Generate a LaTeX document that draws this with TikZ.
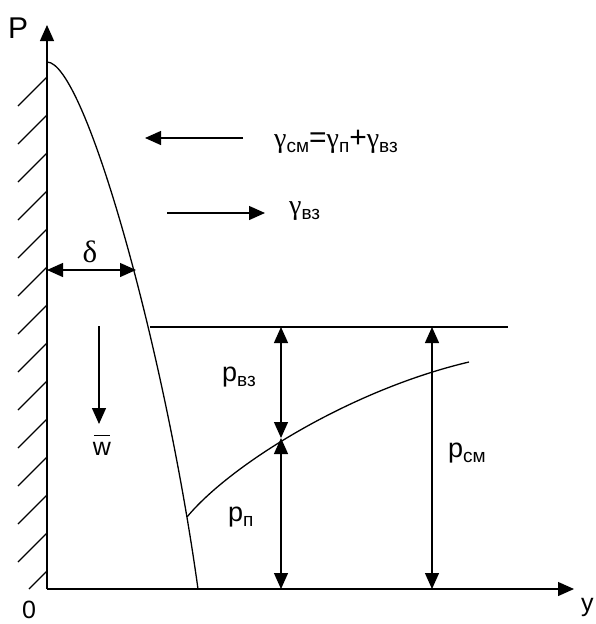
\documentclass[tikz,border=0pt]{standalone}
\usepackage{fontspec}
\setmainfont{Liberation Sans}
\newfontfamily\gfont{Liberation Serif}
\usetikzlibrary{arrows.meta}
\newcommand{\sbx}[1]{\raisebox{-5pt}{\fontsize{19}{19}\selectfont #1}}
\newcommand{\gam}{{\gfont\fontsize{28}{28}\selectfont γ}}
\newcommand{\bop}[1]{{\fontsize{30}{30}\selectfont #1}}
\tikzset{
  ln/.style={line width=1.3pt},
  arr/.style={ln,-{Triangle[length=16pt,width=14pt]}},
  darr/.style={ln,{Triangle[length=16pt,width=14pt]}-{Triangle[length=16pt,width=14pt]}},
  lbl/.style={inner sep=0pt,font=\fontsize{27}{30}\selectfont},
}
\begin{document}
\begin{tikzpicture}[x=1pt,y=-1pt]
\useasboundingbox (0,0) rectangle (596,624);
% axes
\coordinate (O) at (47,589);
\coordinate (Ptip) at (47,25);
\coordinate (Ytip) at (574,589);
\draw[arr] (O) -- (Ptip);
\draw[arr] (O) -- (Ytip);
% hatching
\foreach \k in {0,...,12}{
  \draw[ln] (47,{77+38*\k}) -- (18,{106+38*\k});
}
\draw[ln] (47,571) -- (29,589);
% main curve
\draw[ln] (47,62) .. controls (85,62) and (165,350) .. (198,589);
% top horizontal
\coordinate (H1) at (150,327);
\coordinate (H2) at (508,327);
\draw[ln] (H1) -- (H2);
% lower curve
\draw[ln] (187,517) .. controls (230,465) and (350,390) .. (469,362);
% gamma arrows
\coordinate (g1a) at (243,138);
\coordinate (g1b) at (145,138);
\draw[arr] (g1a) -- (g1b);
\coordinate (g2a) at (167,213);
\coordinate (g2b) at (265,213);
\draw[arr] (g2a) -- (g2b);
\node[lbl,anchor=base west] (gsum) at (274,147) {\gam\sbx{см}\bop{=}\gam\sbx{п}\bop{+}\gam\sbx{вз}};
\node[lbl,anchor=base west] (gvz) at (289,214) {\gam\sbx{вз}};
% delta
\coordinate (d1) at (47,270);
\coordinate (d2) at (136,270);
\draw[darr] (d1) -- (d2);
\node[lbl,anchor=base,font=\gfont\fontsize{31}{31}\selectfont] (delta) at (90,262) {δ};
% w arrow
\coordinate (w1) at (99,326);
\coordinate (w2) at (99,424);
\draw[arr] (w1) -- (w2);
\node[lbl,anchor=base,font=\fontsize{25}{25}\selectfont] (w) at (102,455) {w};
\draw[line width=1.2pt] ([xshift=1pt,yshift=6pt]w.north west) -- ([xshift=-1pt,yshift=6pt]w.north east);
% p arrows
\coordinate (a1) at (281,327);
\coordinate (a2) at (281,438);
\coordinate (a3) at (281,589);
\draw[darr] (a1) -- (a2);
\draw[darr] (a2) -- (a3);
\coordinate (c1) at (432,327);
\coordinate (c2) at (432,589);
\draw[darr] (c1) -- (c2);
\node[lbl,anchor=base west] (pvz) at (222,381) {p\sbx{вз}};
\node[lbl,anchor=base west] (pn) at (228,521) {p\sbx{п}};
\node[lbl,anchor=base west] (pcm) at (448,457) {p\sbx{см}};
% axis labels
\node[lbl,anchor=base west,font=\fontsize{30}{30}\selectfont] (P) at (8,38) {P};
\node[lbl,anchor=base west,font=\fontsize{25}{25}\selectfont] (zero) at (22,618) {0};
\node[lbl,anchor=base west,font=\fontsize{25}{25}\selectfont] (y) at (581,611) {y};
\end{tikzpicture}
\end{document}
